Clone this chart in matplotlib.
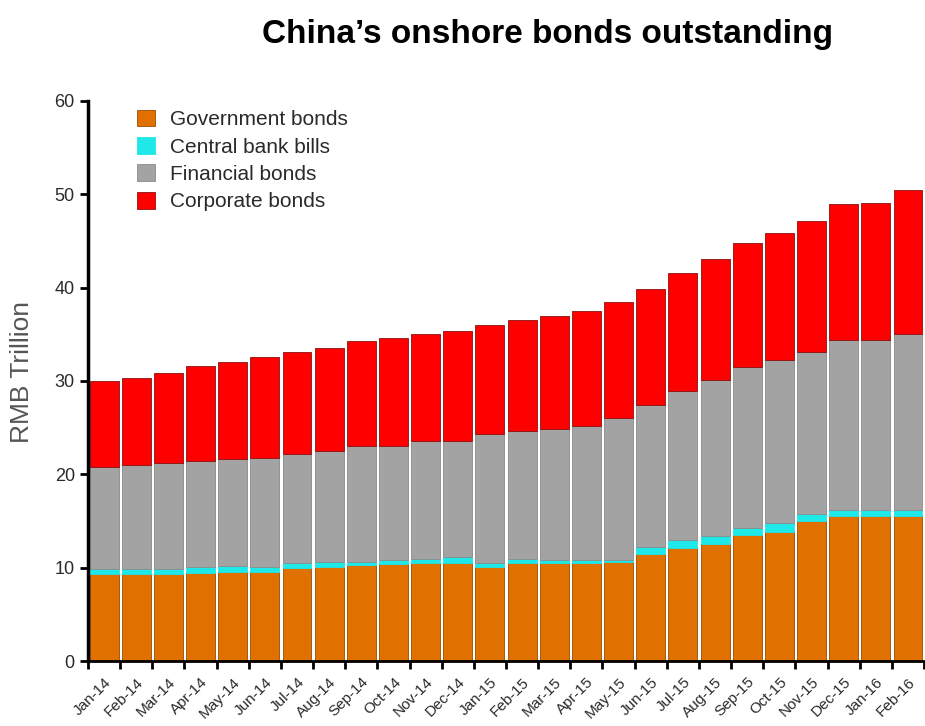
import matplotlib
matplotlib.use("Agg")
import matplotlib.pyplot as plt
import numpy as np

months = ["Jan-14", "Feb-14", "Mar-14", "Apr-14", "May-14", "Jun-14", "Jul-14",
          "Aug-14", "Sep-14", "Oct-14", "Nov-14", "Dec-14", "Jan-15", "Feb-15",
          "Mar-15", "Apr-15", "May-15", "Jun-15", "Jul-15", "Aug-15", "Sep-15",
          "Oct-15", "Nov-15", "Dec-15", "Jan-16", "Feb-16"]

# RMB trillion outstanding, by bond type
government = [9.3, 9.3, 9.3, 9.4, 9.5, 9.5, 10.0, 10.1, 10.25, 10.35, 10.45, 10.5,
              10.05, 10.45, 10.5, 10.5, 10.6, 11.45, 12.15, 12.55, 13.5, 13.85,
              15.0, 15.55, 15.55, 15.55]
central_bank = [0.6, 0.6, 0.6, 0.7, 0.7, 0.6, 0.5, 0.5, 0.35, 0.45, 0.45, 0.6,
                0.45, 0.5, 0.3, 0.3, 0.25, 0.8, 0.8, 0.85, 0.7, 0.9,
                0.8, 0.65, 0.6, 0.65]
financial = [10.9, 11.1, 11.3, 11.3, 11.4, 11.6, 11.7, 11.9, 12.4, 12.2, 12.7, 12.5,
             13.8, 13.65, 14.1, 14.4, 15.15, 15.15, 15.95, 16.7, 17.3, 17.45,
             17.3, 18.2, 18.25, 18.8]
corporate = [9.2, 9.3, 9.7, 10.2, 10.4, 10.9, 10.9, 11.0, 11.3, 11.6, 11.4, 11.7,
             11.7, 11.9, 12.1, 12.3, 12.5, 12.5, 12.7, 13.0, 13.3, 13.6,
             14.0, 14.6, 14.7, 15.5]

series = [
    ("Government bonds", government, "#E07000", "#9a4d00"),
    ("Central bank bills", central_bank, "#1EE8E8", "#1EE8E8"),
    ("Financial bonds", financial, "#A3A3A3", "#8a8a8a"),
    ("Corporate bonds", corporate, "#FF0000", "#8a1010"),
]

plt.rcParams["font.family"] = ["Liberation Sans", "DejaVu Sans"]

fig = plt.figure(figsize=(9.25, 7.26), dpi=100)
ax = fig.add_axes([0.0951, 0.0895, 0.9039, 0.7715])

x = np.arange(len(months))
bottom = np.zeros(len(months))
handles = []
for name, vals, color, edge in series:
    vals = np.asarray(vals)
    b = ax.bar(x, vals, width=0.9, bottom=bottom, color=color,
               edgecolor=edge, linewidth=0.6, label=name)
    handles.append(b)
    bottom += vals

ax.set_xlim(-0.5, len(months) - 0.5)
ax.set_ylim(0, 60)
ax.set_yticks(range(0, 61, 10))
ax.tick_params(axis="y", labelsize=13, width=2, length=6, direction="out",
               labelcolor="#2a2a2a")

ax.set_xticks(x)
ax.set_xticklabels(months, rotation=45, ha="right", rotation_mode="anchor",
                   fontsize=11, color="#2a2a2a")
ax.tick_params(axis="x", length=0, pad=10)
ax.set_xticks(np.arange(-0.5, len(months) - 0.4, 1.0), minor=True)
ax.tick_params(axis="x", which="minor", length=6, width=2)

for side in ("top", "right"):
    ax.spines[side].set_visible(False)
ax.spines["left"].set_linewidth(2.5)
ax.spines["bottom"].set_linewidth(2)

ax.set_ylabel("RMB Trillion", fontsize=19, color="#555555")
ax.yaxis.set_label_coords(-0.064, 0.516)

ax.legend(handles=handles, loc="upper left", bbox_to_anchor=(0.036, 1.018),
          frameon=False, fontsize=15, handlelength=0.85, handleheight=0.85,
          handletextpad=0.75, labelspacing=0.38, labelcolor="#2a2a2a")

fig.text(0.592, 0.952, "China\u2019s onshore bonds outstanding", ha="center",
         va="center", fontsize=24, fontweight="bold")

fig.savefig("out.png", dpi=100)
